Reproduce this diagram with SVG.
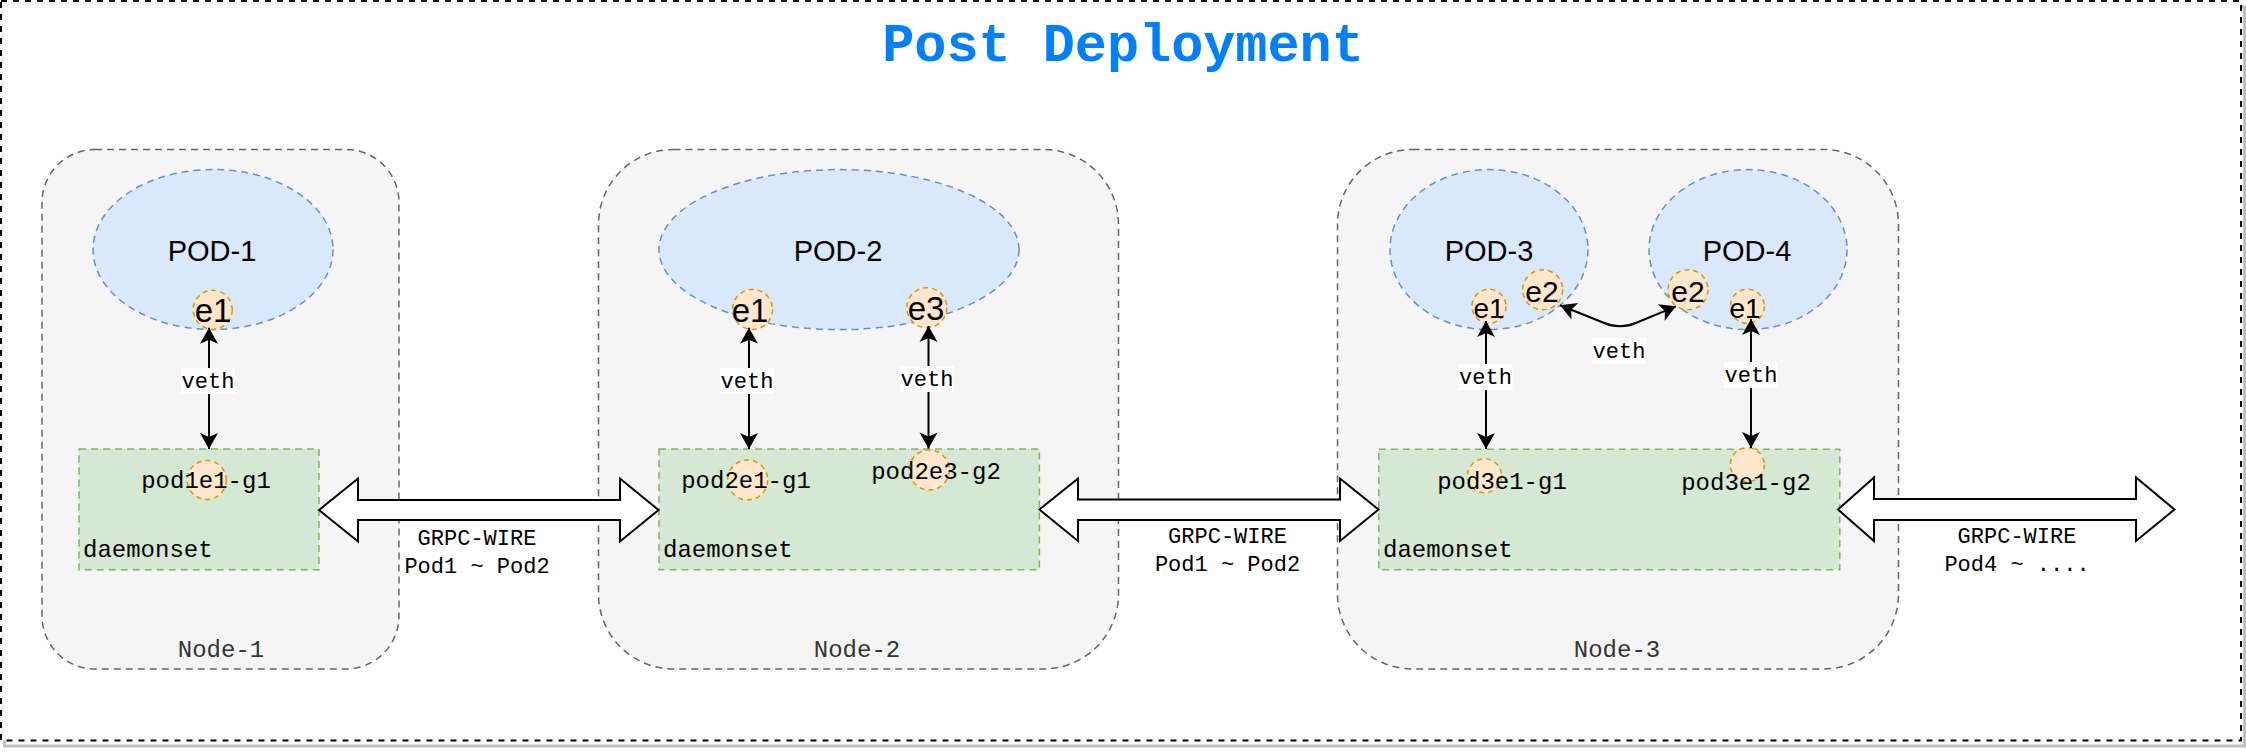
<svg xmlns="http://www.w3.org/2000/svg" width="2246" height="752" viewBox="0 0 2246 752">
<defs>
<style>
.frame{fill:#ffffff;stroke:#000000;stroke-width:2;stroke-dasharray:6 6}
.shadow{fill:none;stroke:#bfbfbf;stroke-width:3}
.node{fill:#f5f5f5;stroke:#666666;stroke-width:1.5;stroke-dasharray:7 5}
.pod{fill:#dae8fc;stroke:#6c8ebf;stroke-width:1.5;stroke-dasharray:7 5}
.eth{fill:#ffe6cc;stroke:#d79b00;stroke-width:1.5;stroke-dasharray:5 4}
.ds{fill:#d5e8d4;stroke:#82b366;stroke-width:1.5;stroke-dasharray:7 5}
.sans{font-family:"Liberation Sans",Arial,sans-serif;fill:#000000}
.mono{font-family:"Liberation Mono","Courier New",monospace;fill:#000000}
.podlbl{font-size:29px;text-anchor:middle}
.e{font-size:33px;text-anchor:middle}
.es{font-size:28px;text-anchor:middle}
.em{font-size:30px;text-anchor:middle}
.dslbl{font-size:24px}
.nodelbl{font-size:24px;text-anchor:middle;fill:#333333}
.veth{font-size:22px;text-anchor:middle}
.vbg{fill:#ffffff}
.wire{fill:none;stroke:#000000;stroke-width:2}
.big{fill:#ffffff;stroke:#000000;stroke-width:2;stroke-linejoin:miter}
.title{font-family:"Liberation Mono","Courier New",monospace;font-weight:bold;font-size:53.5px;fill:#007fff;text-anchor:middle}
</style>
<marker id="arr" markerUnits="userSpaceOnUse" markerWidth="19" markerHeight="19" viewBox="0 0 19 19" refX="18" refY="9.5" orient="auto-start-reverse">
<path d="M2,0.5 L18,9.5 L2,18.5 L6,9.5 Z" fill="#000000"/>
</marker>
</defs>

<g id="frame">
<rect class="shadow" x="4.5" y="7" width="2240" height="739"/>
<rect class="frame" x="1" y="1" width="2240" height="739.5"/>
<text class="title" x="1123" y="61">Post Deployment</text>
</g>

<g id="node-1">
<rect class="node" x="42" y="149.5" width="357" height="519.5" rx="53" ry="53"/>
<text class="mono nodelbl" x="221" y="657">Node-1</text>
</g>
<g id="node-2">
<rect class="node" x="598.5" y="149.5" width="520" height="519.5" rx="75" ry="75"/>
<text class="mono nodelbl" x="857" y="657">Node-2</text>
</g>
<g id="node-3">
<rect class="node" x="1337.5" y="149.5" width="561" height="519.5" rx="75" ry="75"/>
<text class="mono nodelbl" x="1617" y="657">Node-3</text>
</g>

<g id="pod-1">
<ellipse class="pod" cx="213" cy="249.5" rx="120" ry="80"/>
<text class="sans podlbl" x="212" y="261">POD-1</text>
</g>
<g id="pod-1-e1">
<circle class="eth" cx="212.7" cy="309.8" r="19.5"/>
<text class="sans e" x="213" y="321.5">e1</text>
</g>

<g id="pod-2">
<ellipse class="pod" cx="839" cy="249.6" rx="180" ry="80"/>
<text class="sans podlbl" x="838" y="261">POD-2</text>
</g>
<g id="pod-2-e1">
<circle class="eth" cx="752.5" cy="309.4" r="20"/>
<text class="sans e" x="750" y="321.5">e1</text>
</g>
<g id="pod-2-e3">
<circle class="eth" cx="926.8" cy="307.7" r="20"/>
<text class="sans e" x="926" y="320">e3</text>
</g>

<g id="pod-3">
<ellipse class="pod" cx="1489" cy="249.6" rx="99" ry="80"/>
<text class="sans podlbl" x="1489" y="261">POD-3</text>
</g>
<g id="pod-3-e1">
<circle class="eth" cx="1489" cy="306.3" r="17"/>
<text class="sans es" x="1489" y="318.4">e1</text>
</g>
<g id="pod-3-e2">
<circle class="eth" cx="1542.7" cy="289.8" r="20"/>
<text class="sans em" x="1542" y="302">e2</text>
</g>

<g id="pod-4">
<ellipse class="pod" cx="1748" cy="249.6" rx="99" ry="80"/>
<text class="sans podlbl" x="1747" y="261">POD-4</text>
</g>
<g id="pod-4-e2">
<circle class="eth" cx="1688" cy="289.8" r="20"/>
<text class="sans em" x="1688" y="302">e2</text>
</g>
<g id="pod-4-e1">
<circle class="eth" cx="1747.3" cy="306.3" r="17"/>
<text class="sans es" x="1745" y="318.4">e1</text>
</g>

<g id="daemonset-1">
<rect class="ds" x="79" y="449" width="240" height="120.7"/>
<circle class="eth" cx="206.7" cy="480" r="19.5"/>
<text class="mono dslbl" x="206" y="488" text-anchor="middle">pod1e1-g1</text>
<text class="mono dslbl" x="83" y="557">daemonset</text>
</g>

<g id="daemonset-2">
<rect class="ds" x="659" y="449" width="380.4" height="120.7"/>
<circle class="eth" cx="747.7" cy="480" r="20"/>
<circle class="eth" cx="929.2" cy="470" r="20"/>
<text class="mono dslbl" x="746" y="488" text-anchor="middle">pod2e1-g1</text>
<text class="mono dslbl" x="936" y="478.5" text-anchor="middle">pod2e3-g2</text>
<text class="mono dslbl" x="663" y="557">daemonset</text>
</g>

<g id="daemonset-3">
<rect class="ds" x="1378.8" y="449.2" width="461" height="120.5"/>
<circle class="eth" cx="1484.6" cy="475.7" r="17"/>
<circle class="eth" cx="1747.3" cy="464.7" r="17"/>
<text class="mono dslbl" x="1502" y="488.5" text-anchor="middle">pod3e1-g1</text>
<text class="mono dslbl" x="1746" y="489.5" text-anchor="middle">pod3e1-g2</text>
<text class="mono dslbl" x="1383" y="557">daemonset</text>
</g>

<g id="connectors">
<line class="wire" x1="209" y1="327.7" x2="209" y2="449" marker-start="url(#arr)" marker-end="url(#arr)"/>
<rect class="vbg" x="181" y="368" width="54" height="26"/>
<text class="mono veth" x="208" y="388">veth</text>

<line class="wire" x1="749" y1="327.7" x2="749" y2="449" marker-start="url(#arr)" marker-end="url(#arr)"/>
<rect class="vbg" x="720" y="368" width="54" height="26"/>
<text class="mono veth" x="747" y="388">veth</text>

<line class="wire" x1="928.5" y1="326" x2="928.5" y2="448.5" marker-start="url(#arr)" marker-end="url(#arr)"/>
<rect class="vbg" x="900" y="366" width="54" height="26"/>
<text class="mono veth" x="927" y="386">veth</text>

<line class="wire" x1="1486" y1="321" x2="1486" y2="449" marker-start="url(#arr)" marker-end="url(#arr)"/>
<rect class="vbg" x="1458.5" y="364" width="54" height="26"/>
<text class="mono veth" x="1485.5" y="384">veth</text>

<line class="wire" x1="1751" y1="319" x2="1751" y2="448" marker-start="url(#arr)" marker-end="url(#arr)"/>
<rect class="vbg" x="1724" y="362" width="54" height="26"/>
<text class="mono veth" x="1751" y="382">veth</text>

<path class="wire" d="M1560,305.3 L1603,322.5 Q1620,330 1637,322.5 L1676,306.3" marker-start="url(#arr)" marker-end="url(#arr)"/>
<rect class="vbg" x="1592" y="338" width="54" height="26"/>
<text class="mono veth" x="1619" y="358">veth</text>

<polygon class="big" points="319,510 358,478.5 358,500 620,500 620,478.5 658.5,510 620,541.5 620,520 358,520 358,541.5"/>
<text class="mono veth" x="477" y="545">GRPC-WIRE</text>
<text class="mono veth" x="477" y="573">Pod1 ~ Pod2</text>

<polygon class="big" points="1039.4,509.5 1078,478.5 1078,499.5 1340,499.5 1340,478.5 1378.5,509.5 1340,541 1340,520 1078,520 1078,541"/>
<text class="mono veth" x="1227.5" y="543">GRPC-WIRE</text>
<text class="mono veth" x="1227.5" y="571">Pod1 ~ Pod2</text>

<polygon class="big" points="1838,509.5 1874,477.5 1874,499 2136,499 2136,477.5 2174.5,509.5 2136,541 2136,520 1874,520 1874,541"/>
<text class="mono veth" x="2017" y="543">GRPC-WIRE</text>
<text class="mono veth" x="2017" y="571">Pod4 ~ ....</text>
</g>
</svg>
